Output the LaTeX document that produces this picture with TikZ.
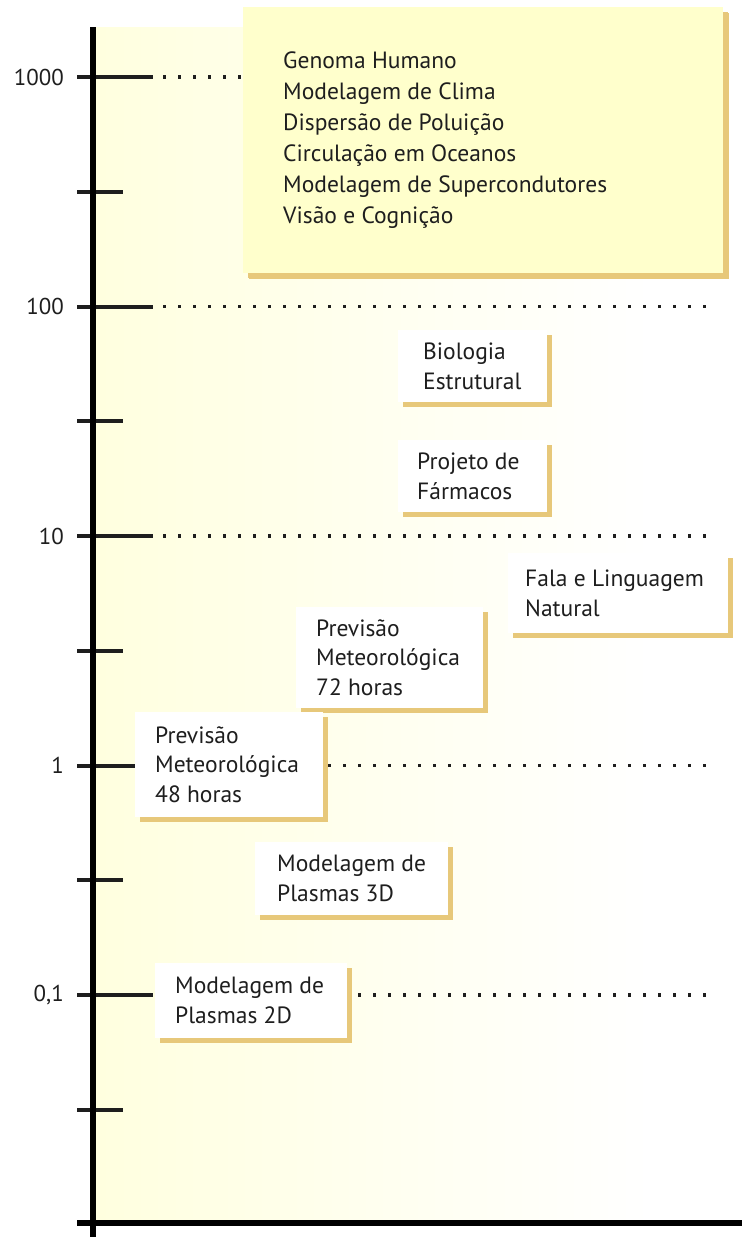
\documentclass[tikz,border=0pt]{standalone}
\usepackage{fontspec}
\setmainfont{PT Sans}
\definecolor{bgyellow}{RGB}{255, 255, 204}
\definecolor{cardyellow}{RGB}{255, 255, 204}
\definecolor{shadowtan}{RGB}{231, 200, 122}
\definecolor{inkgray}{RGB}{30, 30, 30}
\usetikzlibrary{positioning, shadows}
\pgfdeclarehorizontalshading{bgfade}{100bp}{color(0bp)=(bgyellow); color(68bp)=(white); color(100bp)=(white)}

\tikzset{
  card/.style={fill=white, inner sep=0pt, anchor=north west,
    drop shadow={shadow xshift=5bp, shadow yshift=-5bp, fill=shadowtan, opacity=1}},
  cardtext/.style={inner sep=0pt, align=left, text=inkgray, font=\fontsize{23.6}{30}\selectfont},
  ticklabel/.style={anchor=east, inner sep=0pt, text=inkgray, font=\fontsize{23}{26}\selectfont},
  axistick/.style={line width=4bp, draw=inkgray},
  guide/.style={line width=3.2bp, dash pattern=on 3.2bp off 11.8bp, draw=inkgray}
}

\begin{document}
\begin{tikzpicture}[x=1bp, y=-1bp]
  \useasboundingbox (0,0) rectangle (742,1237);

  % Background band
  \shade[shading=bgfade] (93,27) rectangle (742,1223);

  % Decades: guides, ticks, labels
  \foreach \y/\val [count=\i] in {77/1000, 306.5/100, 536/10, 765.5/1, 995/{0,1}} {
    \draw[guide] (163,\y) -- (715,\y);
    \draw[axistick] (77,\y) -- (153,\y);
    \node[ticklabel] (lab\i) at (64,\y) {\val};
  }
  \foreach \y in {191.5, 421, 650.5, 880, 1109.5}
    \draw[axistick] (77,\y) -- (123,\y);

  % Upper band
  \node[card, fill=cardyellow, minimum width=480bp, minimum height=266bp,
    drop shadow={shadow xshift=6bp, shadow yshift=-6bp, fill=shadowtan, opacity=1}] (grand) at (243,7) {};
  \node[cardtext, font=\fontsize{23.6}{31}\selectfont, right=40bp of grand.west] (grand text) {
    Genoma Humano\\
    Modelagem de Clima\\
    Dispersão de Poluição\\
    Circulação em Oceanos\\
    Modelagem de Supercondutores\\
    Visão e Cognição};

  % Cards - 10 to 100
  \node[card, minimum width=149bp, minimum height=72bp] (bio) at (398,330) {};
  \node[cardtext, right=25bp of bio.west] (bio text) {Biologia\\Estrutural};

  \node[card, minimum width=149bp, minimum height=72bp] (drug) at (398,440) {};
  \node[cardtext, right=19bp of drug.west] (drug text) {Projeto de\\Fármacos};

  % Cards - 1 to 10
  \node[card, minimum width=220bp, minimum height=80bp] (speech) at (508,553) {};
  \node[cardtext, right=17bp of speech.west] (speech text) {Fala e Linguagem\\Natural};

  \node[card, minimum width=187bp, minimum height=101bp] (wx72) at (296,607) {};
  \node[cardtext, right=20bp of wx72.west] (wx72 text) {Previsão\\Meteorológica\\72 horas};

  % Cards - below 1
  \node[card, minimum width=188bp, minimum height=105bp] (wx48) at (135,712) {};
  \node[cardtext, right=20bp of wx48.west] (wx48 text) {Previsão\\Meteorológica\\48 horas};

  \node[card, minimum width=193bp, minimum height=73bp] (plasma3d) at (255,842) {};
  \node[cardtext, right=22bp of plasma3d.west] (plasma3d text) {Modelagem de\\Plasmas 3D};

  \node[card, minimum width=192bp, minimum height=75bp] (plasma2d) at (155,963) {};
  \node[cardtext, right=20bp of plasma2d.west] (plasma2d text) {Modelagem de\\Plasmas 2D};

  % Axes
  \draw[line width=5.5bp] (93,27) -- (93,1237);
  \draw[line width=6bp] (77,1223) -- (742,1223);
\end{tikzpicture}
\end{document}
